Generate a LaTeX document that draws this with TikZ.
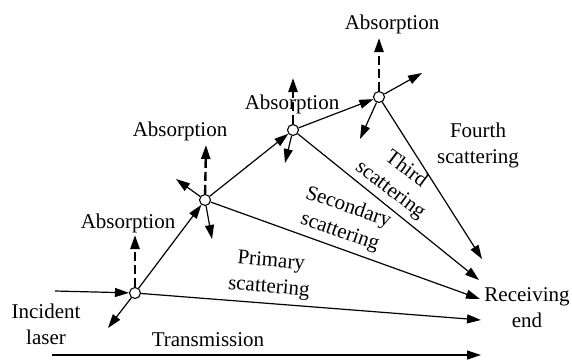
\documentclass[tikz,border=0pt]{standalone}
\usepackage{fontspec}
\setmainfont{Liberation Serif}
\usetikzlibrary{arrows.meta}

\begin{document}
\begin{tikzpicture}[
  x=1pt, y=-1pt,
  font=\fontsize{21}{26}\selectfont,
  dot/.style={draw, circle, fill=white, line width=1.1pt, minimum size=11pt, inner sep=0pt},
  lbl/.style={align=center, inner sep=0pt},
  arrow/.style={-{Triangle[length=14pt, width=9pt]}, line width=1.2pt},
  absarrow/.style={-{Triangle[length=14pt, width=9pt]}, line width=2.4pt, dash pattern=on 9pt off 4pt}
]
\useasboundingbox (0,0) rectangle (572,360);

\node[dot] (n1) at (135,293) {};
\node[dot] (n2) at (205,200) {};
\node[dot] (n3) at (293,130) {};
\node[dot] (n4) at (379,97) {};

\node[lbl] (inc) at (46,324) {Incident\\laser};
\node[lbl] (rec) at (527,308) {Receiving\\end};
\node[lbl] (trans) at (208,340) {Transmission};

\node[lbl] (ab1) at (128,223) {Absorption};
\node[lbl] (ab2) at (180,131) {Absorption};
\node[lbl] (ab3) at (292,104) {Absorption};
\node[lbl] (ab4) at (392,24) {Absorption};

\node[lbl, rotate=-5] (sc1) at (270,275) {Primary\\scattering};
\node[lbl, rotate=-19] (sc2) at (344,220) {Secondary\\scattering};
\node[lbl, rotate=-37] (sc3) at (398,180) {Third\\scattering};
\node[lbl] (sc4) at (478,145) {Fourth\\scattering};

% free ends
\coordinate (in0) at (55,291);
\coordinate (t0) at (52,355);
\coordinate (t1) at (481,355);
\coordinate (r1) at (481,320);
\coordinate (r2) at (480,299);
\coordinate (r3) at (479,280);
\coordinate (r4) at (482,259);
\coordinate (u1) at (135,235);
\coordinate (u2) at (206,145);
\coordinate (u3) at (293,78);
\coordinate (u4) at (379,38);
\coordinate (b1) at (108,328);
\coordinate (b2a) at (176,179);
\coordinate (b2b) at (212,239);
\coordinate (b3) at (285,163);
\coordinate (b4a) at (422,73);
\coordinate (b4b) at (360,139);

% main path
\draw[arrow] (in0) -- (n1);
\draw[arrow] (n1) -- (n2);
\draw[arrow] (n2) -- (n3);
\draw[arrow] (n3) -- (n4);
\draw[arrow] (t0) -- (t1);

% scattering to receiver
\draw[arrow] (n1) -- (r1);
\draw[arrow] (n2) -- (r2);
\draw[arrow] (n3) -- (r3);
\draw[arrow] (n4) -- (r4);

% absorption
\draw[absarrow] (n1) -- (u1);
\draw[absarrow] (n2) -- (u2);
\draw[absarrow] (n3) -- (u3);
\draw[absarrow] (n4) -- (u4);

% other directions
\draw[arrow] (n1) -- (b1);
\draw[arrow] (n2) -- (b2a);
\draw[arrow] (n2) -- (b2b);
\draw[arrow] (n3) -- (b3);
\draw[arrow] (n4) -- (b4a);
\draw[arrow] (n4) -- (b4b);

\end{tikzpicture}
\end{document}
